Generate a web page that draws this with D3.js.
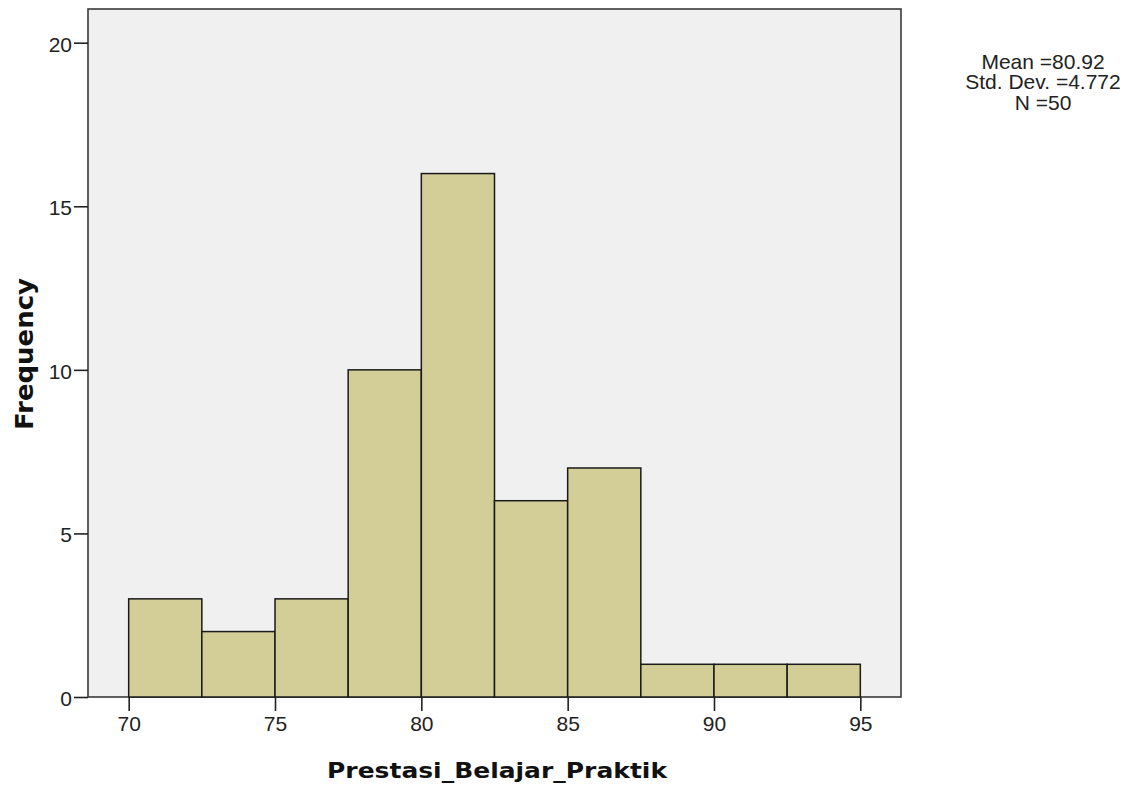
<!DOCTYPE html>
<html><head><meta charset="utf-8">
<script src="https://cdn.jsdelivr.net/npm/d3@7"></script>
<style>body{margin:0;background:#fff}svg{display:block}</style>
</head><body>
<svg id="c" width="1135" height="794"></svg>
<script>
const binStarts = [70, 72.5, 75, 77.5, 80, 82.5, 85, 87.5, 90, 92.5];
const binWidth = 2.5;
const counts = [3, 2, 3, 10, 16, 6, 7, 1, 1, 1];
const xTicks = [70, 75, 80, 85, 90, 95];
const yTicks = [0, 5, 10, 15, 20];
const statsLines = ["Mean =80.92", "Std. Dev. =4.772", "N =50"];
const xTitle = "Prestasi_Belajar_Praktik";
const yTitle = "Frequency";

const svg = d3.select("#c");
const L = 88, R = 901, T = 9, B = 697;
const x = d3.scaleLinear().domain([68.61, 96.39]).range([L, R]);
const y = d3.scaleLinear().domain([0, 21.03]).range([B, T]);
const sans = "Liberation Sans, Arial, sans-serif";

svg.append("rect").attr("x", L).attr("y", T).attr("width", R - L).attr("height", B - T)
  .attr("fill", "#f0f0f0").attr("stroke", "#3a3a3a").attr("stroke-width", 1.6);

svg.append("g").selectAll("rect").data(binStarts).join("rect")
  .attr("x", (d) => x(d))
  .attr("y", (d, i) => y(counts[i]))
  .attr("width", (d) => x(d + binWidth) - x(d))
  .attr("height", (d, i) => y(0) - y(counts[i]))
  .attr("fill", "#d3ce97").attr("stroke", "#1a1a1a").attr("stroke-width", 1.5);

const xa = svg.append("g").attr("transform", `translate(0,${B})`)
  .call(d3.axisBottom(x).tickValues(xTicks).tickSize(14).tickPadding(5).tickSizeOuter(0));
xa.select(".domain").remove();
xa.selectAll("line").attr("stroke", "#222").attr("stroke-width", 1.6);
xa.selectAll("text").attr("font-family", sans).attr("font-size", 21).attr("fill", "#222");

const ya = svg.append("g").attr("transform", `translate(${L},0)`)
  .call(d3.axisLeft(y).tickValues(yTicks).tickSize(14).tickPadding(2).tickSizeOuter(0));
ya.select(".domain").remove();
ya.selectAll("line").attr("stroke", "#222").attr("stroke-width", 1.6);
ya.selectAll("text").attr("font-family", sans).attr("font-size", 21).attr("fill", "#222").attr("dy", "0.4em");

svg.append("text").attr("x", 497).attr("y", 778).attr("text-anchor", "middle")
  .attr("font-family", "DejaVu Sans, sans-serif").attr("font-weight", "bold").attr("font-size", 21)
  .attr("textLength", 340).attr("lengthAdjust", "spacingAndGlyphs")
  .attr("fill", "#111").text(xTitle);

svg.append("text").attr("transform", `translate(33,354) rotate(-90)`).attr("text-anchor", "middle")
  .attr("font-family", "DejaVu Sans, sans-serif").attr("font-weight", "bold").attr("font-size", 25)
  .attr("textLength", 152).attr("lengthAdjust", "spacingAndGlyphs")
  .attr("fill", "#111").text(yTitle);

svg.append("g").selectAll("text").data(statsLines).join("text")
  .attr("x", 1043).attr("y", (d, i) => 68.5 + i * 20.8).attr("text-anchor", "middle")
  .attr("font-family", sans).attr("font-size", 21).attr("fill", "#222")
  .text((d) => d);
</script>
</body></html>
